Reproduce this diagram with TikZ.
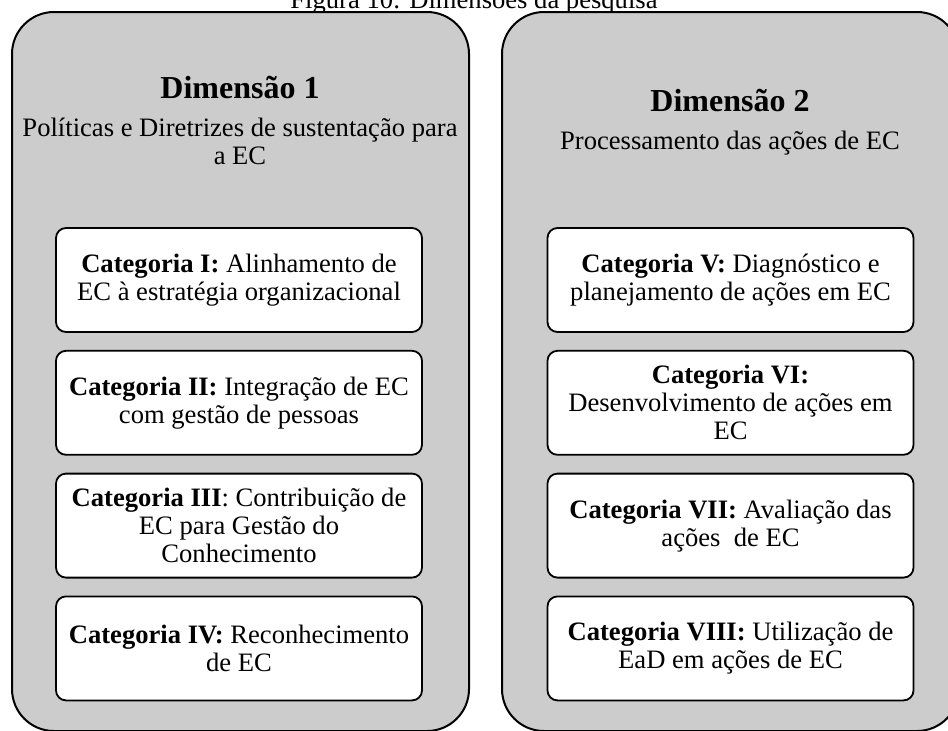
\documentclass[tikz,border=0pt]{standalone}
\usepackage{fontspec}
\setmainfont{Liberation Serif}
\usetikzlibrary{positioning}
\definecolor{dimgray}{RGB}{204,204,204}
\def\bodyfont{\fontsize{13.3}{14}\selectfont}

\begin{document}
\begin{tikzpicture}[x=0.5pt,y=-0.5pt,
    dimbox/.style={draw,line width=1pt,fill=dimgray,rounded corners=21pt,
        minimum width=228.5pt,minimum height=359.5pt,inner sep=0pt},
    catbox/.style={draw,line width=0.9pt,fill=white,rounded corners=5pt,
        minimum width=183pt,minimum height=52pt,align=center,
        font=\bodyfont,inner sep=2pt},
    dimtitle/.style={font=\bfseries\fontsize{16}{19}\selectfont},
    dimtext/.style={font=\bodyfont,align=center}]
        \useasboundingbox (0,0) rectangle (948,730);

        % titulo da figura
        \node[anchor=base,font=\bodyfont] (fig) at (474,8) {Figura 10: Dimensões da pesquisa};

        % dimensoes
        \node[dimbox] (dim1) at (240.5,371.5) {};
        \node[dimbox] (dim2) at (730.5,371.5) {};

        \node[dimtitle] (dimtitle1) at (240,87) {Dimensão 1};
        \node[dimtext] (dimtext1) at (240,141) {Políticas e Diretrizes de sustentação para\\a EC};
        \node[dimtitle] (dimtitle2) at (730,100) {Dimensão 2};
        \node[dimtext] (dimtext2) at (730,143) {Processamento das ações de EC};

        % categorias da dimensao 1
        \node[catbox] (cat1) at (239,280) {\textbf{Categoria I:} Alinhamento de\\EC à estratégia organizacional};
        \node[catbox,below=8.5pt of cat1] (cat2) {\textbf{Categoria II:} Integração de EC\\com gestão de pessoas};
        \node[catbox,below=8.5pt of cat2] (cat3) {\textbf{Categoria III}: Contribuição de\\EC para Gestão do\\Conhecimento};
        \node[catbox,below=8.5pt of cat3] (cat4) {\textbf{Categoria IV:} Reconhecimento\\de EC};

        % categorias da dimensao 2
        \node[catbox] (cat5) at (730.5,280) {\textbf{Categoria V:} Diagnóstico e\\planejamento de ações em EC};
        \node[catbox,below=8.5pt of cat5] (cat6) {\textbf{Categoria VI:}\\Desenvolvimento de ações em\\EC};
        \node[catbox,below=8.5pt of cat6] (cat7) {\textbf{Categoria VII:} Avaliação das\\ações \ de EC};
        \node[catbox,below=8.5pt of cat7] (cat8) {\textbf{Categoria VIII:} Utilização de\\EaD em ações de EC};
\end{tikzpicture}
\end{document}
